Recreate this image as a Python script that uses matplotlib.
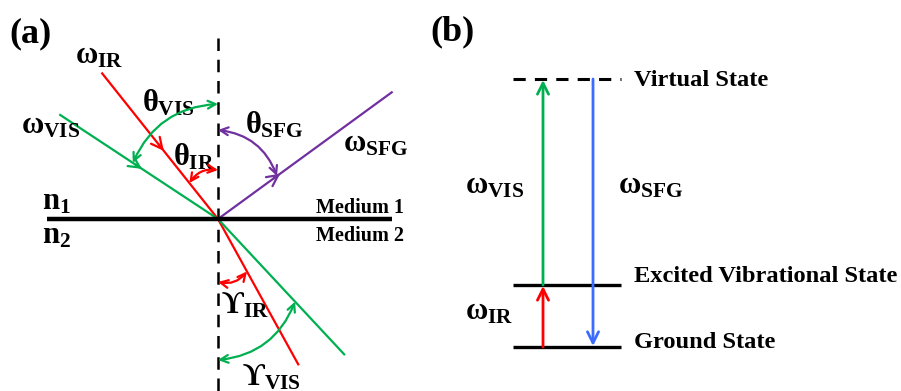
import numpy as np
import matplotlib.pyplot as plt
from matplotlib.patches import FancyArrowPatch

plt.rcParams['font.family'] = ['Liberation Serif', 'DejaVu Serif']
plt.rcParams['font.weight'] = 'bold'
plt.rcParams['mathtext.fontset'] = 'custom'
plt.rcParams['mathtext.rm'] = 'Liberation Serif:bold'
plt.rcParams['mathtext.it'] = 'Liberation Serif:bold'
plt.rcParams['mathtext.bf'] = 'Liberation Serif:bold'

RED = '#ff0000'
GREEN = '#00b050'
PURPLE = '#7030a0'
BLUE = '#3c6cff'

# panel (a): beams meeting the interface at one point (pixel units, y down)
origin = (218, 219)
beam_angle = [38.5, 56.6, 28.9, 43.0, 53.9]     # degrees from the normal
beam_len = [186, 189, 166, 185, 215]
beam_xsign = [-1, -1, 1, 1, 1]
beam_ysign = [-1, -1, 1, 1, -1]
beam_color = [RED, GREEN, RED, GREEN, PURPLE]
beam_arrow = [87, 91, None, None, 77]           # distance of the direction arrow from origin
beam_inward = [True, True, False, False, False]

# angle arcs: which beam, radius on the normal, radius on the beam, curvature
arc_beam = [1, 0, 4, 2, 3]
arc_r_normal = [115, 49, 89, 63, 141]
arc_r_beam = [102, 46, 73, 60, 113]
arc_rad = [0.3, 0.3, -0.3, 0.3, 0.3]
arc_up = [True, True, True, False, False]

# panel (b): energy levels
level_names = ['Virtual State', 'Excited Vibrational State', 'Ground State']
level_y = [79, 285, 347]
level_label_y = [81, 277, 343]
level_x = (513, 621)

fig = plt.figure(figsize=(9.01, 3.91), dpi=100)
ax = fig.add_axes([0, 0, 1, 1])
ax.set_xlim(0, 901)
ax.set_ylim(391, 0)
ax.axis('off')


def beam_point(i, d):
    a = np.radians(beam_angle[i])
    return (origin[0] + beam_xsign[i] * d * np.sin(a),
            origin[1] + beam_ysign[i] * d * np.cos(a))


# interface and normal
ax.plot([47, 392], [219, 219], color='black', lw=3.2, solid_capstyle='butt', zorder=3)
ax.plot([218, 218], [38, 391], color='black', lw=1.8, dashes=(5, 3.5), zorder=1)

for i in range(len(beam_angle)):
    x1, y1 = beam_point(i, beam_len[i])
    ax.plot([origin[0], x1], [origin[1], y1], color=beam_color[i], lw=1.6, zorder=2)
    if beam_arrow[i] is not None:
        p = beam_point(i, beam_arrow[i])
        if beam_inward[i]:
            start = beam_point(i, beam_arrow[i] + 8)
        else:
            start = beam_point(i, beam_arrow[i] - 8)
        ax.annotate('', xy=p, xytext=start,
                    arrowprops=dict(arrowstyle='->', color=beam_color[i], lw=1.6,
                                    mutation_scale=20, shrinkA=0, shrinkB=0))

for k in range(len(arc_beam)):
    i = arc_beam[k]
    sgn = -1 if arc_up[k] else 1
    pa = (origin[0], origin[1] + sgn * arc_r_normal[k])
    pb = beam_point(i, arc_r_beam[k])
    arr = FancyArrowPatch(pa, pb, connectionstyle='arc3,rad=%.2f' % arc_rad[k],
                          arrowstyle='<->', color=beam_color[i], lw=1.6,
                          mutation_scale=14, shrinkA=0, shrinkB=0, zorder=4)
    ax.add_patch(arr)

big = 22
sub_labels = [
    (75, 64, r'$\omega_{\rm IR}$'),
    (21, 133, r'$\omega_{\rm VIS}$'),
    (142, 112, r'$\theta_{\rm VIS}$'),
    (173, 165, r'$\theta_{\rm IR}$'),
    (245, 133, r'$\theta_{\rm SFG}$'),
    (343, 152, r'$\omega_{\rm SFG}$'),
    (221, 313, '$\u03d2_{\\rm IR}$'),
    (242, 385, '$\u03d2_{\\rm VIS}$'),
    (42, 210, r'$\rm n_1$'),
    (42, 243, r'$\rm n_2$'),
    (465, 193, r'$\omega_{\rm VIS}$'),
    (618, 193, r'$\omega_{\rm SFG}$'),
    (465, 320, r'$\omega_{\rm IR}$'),
]
for x, y, s in sub_labels:
    ax.text(x, y, s, fontsize=big, ha='left', va='baseline')

ax.text(404, 213, 'Medium 1', fontsize=14.5, ha='right', va='baseline')
ax.text(404, 241, 'Medium 2', fontsize=14.5, ha='right', va='baseline')
ax.text(9, 42, '(a)', fontsize=26, ha='left', va='baseline')
ax.text(430, 40, '(b)', fontsize=26, ha='left', va='baseline')

# energy levels
ax.plot(level_x, [level_y[0]] * 2, color='black', lw=2.2, dashes=(4, 3))
for y in level_y[1:]:
    ax.plot(level_x, [y, y], color='black', lw=2.4, solid_capstyle='butt')
for name, y in zip(level_names, level_label_y):
    ax.text(634, y, name, fontsize=17.6, ha='left', va='center')

ax.annotate('', xy=(543, level_y[0] + 1), xytext=(543, level_y[1]),
            arrowprops=dict(arrowstyle='->', color=GREEN, lw=2, mutation_scale=20,
                            shrinkA=0, shrinkB=0))
ax.annotate('', xy=(543, level_y[1] + 1), xytext=(543, level_y[2]),
            arrowprops=dict(arrowstyle='->', color=RED, lw=2, mutation_scale=20,
                            shrinkA=0, shrinkB=0))
ax.annotate('', xy=(593, level_y[2] - 1), xytext=(593, level_y[0]),
            arrowprops=dict(arrowstyle='->', color=BLUE, lw=2, mutation_scale=20,
                            shrinkA=0, shrinkB=0))

fig.savefig('out.png', dpi=100)
